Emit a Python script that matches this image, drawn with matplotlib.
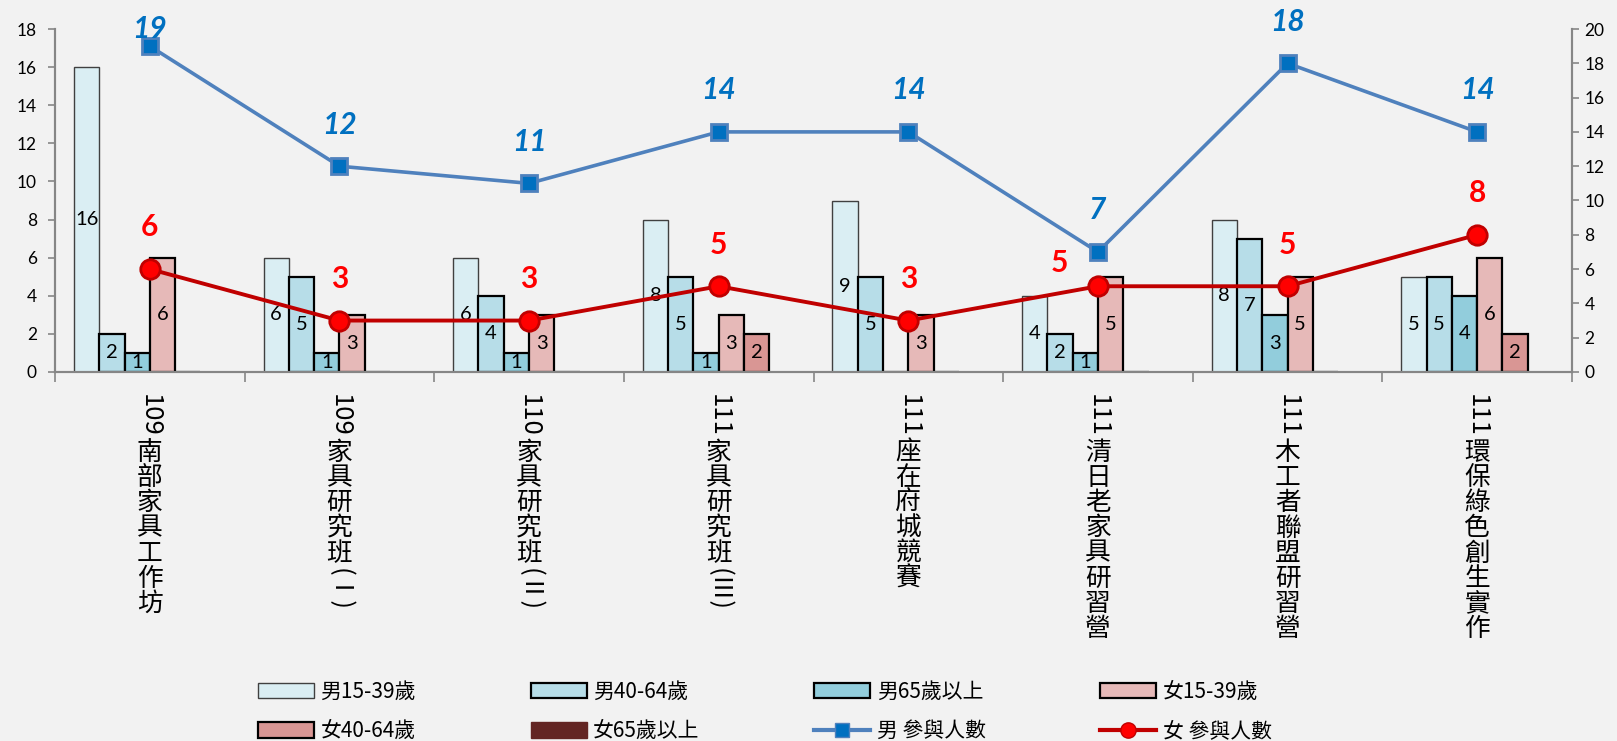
import matplotlib.pyplot as plt
import numpy as np
from matplotlib.patches import Patch
from matplotlib.lines import Line2D
from matplotlib.transforms import ScaledTranslation
from matplotlib.font_manager import FontProperties

# data
categories = ["109南部家具工作坊", "109家具研究班(Ⅰ)", "110家具研究班(Ⅱ)", "111家具研究班(Ⅲ)",
              "111座在府城競賽", "111清日老家具研習營", "111木工者聯盟研習營", "111環保綠色創生實作"]
series_names = ["男15-39歲", "男40-64歲", "男65歲以上", "女15-39歲", "女40-64歲", "女65歲以上"]
male_15_39 = [16, 6, 6, 8, 9, 4, 8, 5]
male_40_64 = [2, 5, 4, 5, 5, 2, 7, 5]
male_65_up = [1, 1, 1, 1, 0, 1, 3, 4]
female_15_39 = [6, 3, 3, 3, 3, 5, 5, 6]
female_40_64 = [0, 0, 0, 2, 0, 0, 0, 2]
female_65_up = [0, 0, 0, 0, 0, 0, 0, 0]
male_total = [19, 12, 11, 14, 14, 7, 18, 14]
female_total = [6, 3, 3, 5, 3, 5, 5, 8]
line_names = ["男 參與人數", "女 參與人數"]

bar_series = [male_15_39, male_40_64, male_65_up, female_15_39, female_40_64, female_65_up]
bar_faces = ["#daeef3", "#b7dde8", "#92cddc", "#e6b9b8", "#d99694", "#632523"]
bar_edges = ["#404040", "#000000", "#000000", "#000000", "#000000", "none"]
bar_lw = [1.0, 1.6, 1.6, 1.6, 1.6, 0]

BG = "#f2f2f2"
GRAY = "#868686"
num_font = ["Lato", "Noto Sans CJK TC", "DejaVu Sans"]
cjk_font = ["Noto Sans CJK TC", "DejaVu Sans"]

fig = plt.figure(figsize=(16.17, 7.41), dpi=100, facecolor=BG)
ax = fig.add_axes([55 / 1617, 1 - 372 / 741, (1572 - 55) / 1617, (372 - 29) / 741])
ax.set_facecolor(BG)
ax2 = ax.twinx()

x = np.arange(len(categories))
w = 0.8 / len(bar_series)
for i, vals in enumerate(bar_series):
    bars = ax.bar(x + (i - 2.5) * w, vals, w, color=bar_faces[i], edgecolor=bar_edges[i],
                  linewidth=bar_lw[i], zorder=2)
    ax.bar_label(bars, labels=[str(v) if v else "" for v in vals], label_type="center",
                 fontsize=14.5, family=num_font, color="black")

ax.set_xlim(-0.5, len(categories) - 0.5)
ax.set_ylim(0, 18)
ax.set_yticks(range(0, 19, 2))
ax2.set_ylim(0, 20)
ax2.set_yticks(range(0, 21, 2))

ax2.plot(x, male_total, color="#4f81bd", lw=2.6, marker="s", ms=12, mfc="#0070c0",
         mec="#4f81bd", mew=2, zorder=5)
ax2.plot(x, female_total, color="#c00000", lw=2.8, marker="o", ms=14, mfc="#ff0000",
         mec="#c00000", mew=2, zorder=6)

# offsets for the total labels (points)
male_off = {0: (0, 12)}
female_off = {5: (-28, 17)}
for i, v in enumerate(male_total):
    ax2.annotate(str(v), (x[i], v), xytext=male_off.get(i, (0, 30)), textcoords="offset points",
                 ha="center", va="center", fontsize=21.5, fontweight="bold", fontstyle="italic",
                 color="#0070c0", family=num_font, zorder=7)
for i, v in enumerate(female_total):
    ax2.annotate(str(v), (x[i], v), xytext=female_off.get(i, (0, 30)), textcoords="offset points",
                 ha="center", va="center", fontsize=21.5, fontweight="bold",
                 color="#ff0000", family=num_font, zorder=7)

for a in (ax, ax2):
    a.spines["top"].set_visible(False)
    for s in ("left", "right", "bottom"):
        a.spines[s].set_color(GRAY)
        a.spines[s].set_linewidth(1.5)
ax.tick_params(axis="y", length=5, width=1.2, color=GRAY, labelsize=12.5, pad=8)
ax2.tick_params(axis="y", length=5, width=1.2, color=GRAY, labelsize=12.5, pad=4)
for lab in ax.get_yticklabels() + ax2.get_yticklabels():
    lab.set_family(num_font)

ax.set_xticks(np.arange(-0.5, len(categories)))
ax.set_xticklabels([])
ax.tick_params(axis="x", length=7, width=1.2, color=GRAY)


def split_runs(s):
    # group the string into upright CJK chars and rotated latin runs
    runs = []
    for ch in s:
        upright = ord(ch) > 0x2E80 and ch not in "ⅠⅡⅢ"
        if upright or not runs or runs[-1][1]:
            runs.append([ch, upright])
        else:
            runs[-1][0] += ch
    return runs


# stacked vertical category labels: CJK upright, latin rotated
renderer = fig.canvas.get_renderer()
fs = 18.5
em = fs * fig.dpi / 72
prop = FontProperties(family=cjk_font, size=fs)
base = ax.get_xaxis_transform()
for i, name in enumerate(categories):
    cursor = 20.0
    for text, upright in split_runs(name):
        tr = base + ScaledTranslation(0, -cursor / fig.dpi, fig.dpi_scale_trans)
        if upright:
            ax.text(x[i], 0, text, transform=tr, ha="center", va="top", fontsize=fs,
                    family=cjk_font, color="black", clip_on=False)
            cursor += em * 0.98
        else:
            tw, th, td = renderer.get_text_width_height_descent(text, prop, ismath=False)
            tr = base + ScaledTranslation(0, -(cursor + 2) / fig.dpi, fig.dpi_scale_trans)
            ax.text(x[i], 0, text, transform=tr, ha="center", va="top", rotation=270,
                    fontsize=fs, family=cjk_font, color="black", clip_on=False)
            cursor += tw + 0.2 * em

handles = [Patch(facecolor=bar_faces[i], edgecolor=bar_edges[i] if bar_lw[i] else bar_faces[i],
                 linewidth=max(bar_lw[i], 1.0)) for i in range(6)]
handles.append(Line2D([], [], color="#4f81bd", lw=3, marker="s", ms=10, mfc="#0070c0", mec="#4f81bd"))
handles.append(Line2D([], [], color="#c00000", lw=3, marker="o", ms=11, mfc="#ff0000", mec="#c00000"))
labels = series_names + line_names
order = [0, 4, 1, 5, 2, 6, 3, 7]
fig.legend([handles[k] for k in order], [labels[k] for k in order], ncol=4, loc="center",
           bbox_to_anchor=(0.473, 0.04), frameon=False, prop={"family": cjk_font, "size": 15},
           handlelength=2.7, handleheight=0.75, handletextpad=0.3, columnspacing=5.5,
           labelspacing=0.85)

fig.savefig("out.png", dpi=100, facecolor=BG)
